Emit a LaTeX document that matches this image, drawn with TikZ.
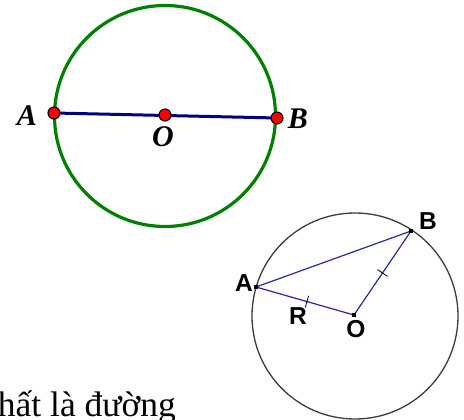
\documentclass[tikz,border=0pt]{standalone}
\usepackage{fontspec}
\usetikzlibrary{calc}
\setmainfont{Liberation Serif}
\newfontfamily\labsans{Liberation Sans}
\definecolor{circgreen}{RGB}{0,128,0}
\definecolor{navyline}{RGB}{0,0,128}
\definecolor{thinblue}{RGB}{40,40,170}
\definecolor{dotred}{RGB}{255,0,0}
\definecolor{circgray}{RGB}{60,60,60}
\tikzset{
  bigpt/.style={circle,draw=black,fill=dotred,line width=1.1pt,inner sep=0pt,minimum size=12pt},
  biglab/.style={font=\fontsize{30}{30}\selectfont\bfseries\itshape,inner sep=0pt},
  smallpt/.style={rectangle,fill=black,inner sep=0pt,minimum size=4pt},
  smalllab/.style={font=\labsans\bfseries\fontsize{24.5}{24.5}\selectfont,inner sep=0pt},
  tick/.style={draw=black,line width=0.8pt}
}
\begin{document}
\begin{tikzpicture}[x=1pt,y=-1pt]
\useasboundingbox (0,0) rectangle (464,420);
\clip (0,0) rectangle (464,420);
% big circle
\node[circle,draw=circgreen,line width=3.2pt,minimum size=221pt,inner sep=0pt] (C1) at (165,116) {};
\coordinate (A) at (54,113);
\coordinate (O) at (165,115);
\coordinate (B) at (277,118);
\draw[navyline,line width=3pt] (A) -- (B);
\node[bigpt] (pA) at (A) {};
\node[bigpt] (pO) at (O) {};
\node[bigpt] (pB) at (B) {};
\node[biglab] (LA) at (27,116) {A};
\node[biglab] (LB) at (298,119) {B};
\node[biglab] (LO) at (163,137) {O};
% small circle
\node[circle,draw=circgray,line width=1.3pt,minimum size=206pt,inner sep=0pt] (C2) at (355,316) {};
\coordinate (a) at (256,287);
\coordinate (b) at (411,231);
\coordinate (o) at (354,315);
\draw[thinblue,line width=1.2pt] (a) -- (b) -- (o) -- cycle;
\node[smallpt] (pa) at (a) {};
\node[smallpt] (pb) at (b) {};
\node[smallpt] (po) at (o) {};
% ticks
\coordinate (m1) at ($(a)!0.52!(o)$);
\coordinate (m2) at ($(o)!0.5!(b)$);
\draw[tick] ($(m1)!6pt!90:(o)$) -- ($(m1)!6pt!-90:(o)$);
\draw[tick] ($(m2)!6pt!90:(b)$) -- ($(m2)!6pt!-90:(b)$);
\node[smalllab] (la) at (244,283) {A};
\node[smalllab] (lb) at (428,221) {B};
\node[smalllab] (lr) at (298,316) {R};
\node[smalllab] (lo) at (356,329) {O};
% bottom text
\node[anchor=base west,inner sep=0pt,font=\fontsize{35.5}{35.5}\selectfont] (txt) at (-20,416) {nhất là đường};
\end{tikzpicture}
\end{document}
